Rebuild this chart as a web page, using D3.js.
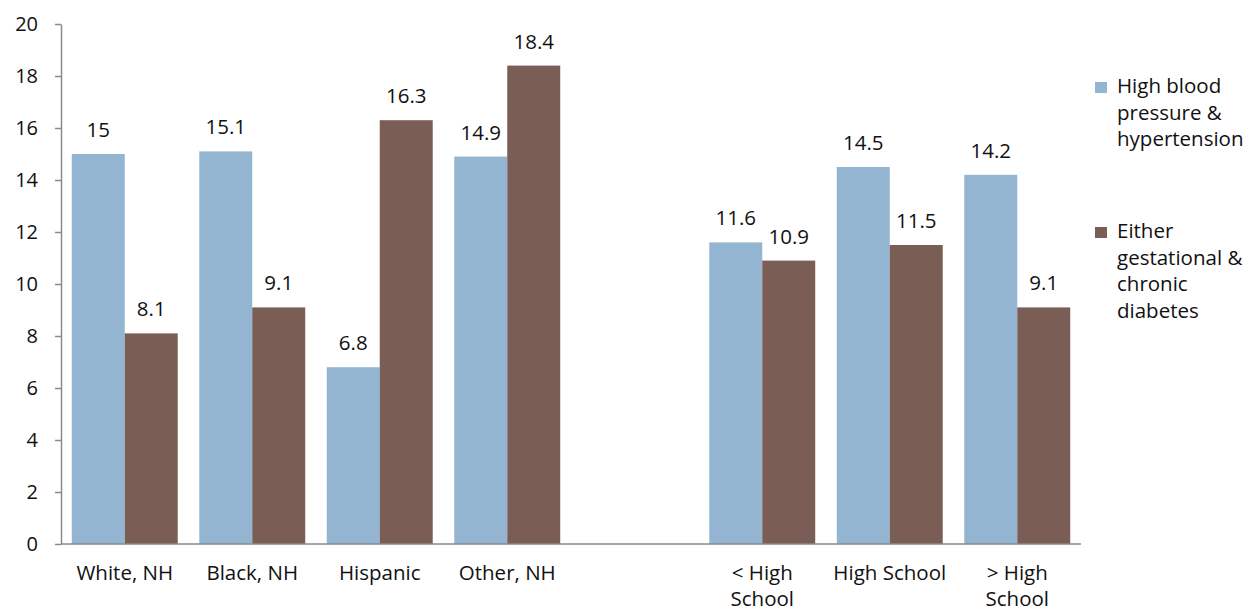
<!DOCTYPE html>
<html>
<head>
<meta charset="utf-8">
<script src="https://cdn.jsdelivr.net/npm/d3@7"></script>
<style>
  body { margin: 0; background: #fff; }
  text { font-family: "Open Sans", "Noto Sans", sans-serif; fill: #111; }
</style>
</head>
<body>
<svg id="chart" width="1253" height="613"></svg>
<script>
const categories = ["White, NH", "Black, NH", "Hispanic", "Other, NH", "", "< High|School", "High School", "> High|School"];
const hbp = [15, 15.1, 6.8, 14.9, null, 11.6, 14.5, 14.2];
const diabetes = [8.1, 9.1, 16.3, 18.4, null, 10.9, 11.5, 9.1];
const seriesNames = ["High blood|pressure &|hypertension", "Either|gestational &|chronic|diabetes"];
const colors = ["#93B5D1", "#7A5E56"];
const yTicks = [0, 2, 4, 6, 8, 10, 12, 14, 16, 18, 20];

const svg = d3.select('#chart');
const plotLeft = 61, plotRight = 1081, plotTop = 24, plotBottom = 544;

const x = d3.scaleBand()
  .domain(d3.range(categories.length))
  .range([plotLeft, plotRight])
  .paddingInner(0.169)
  .paddingOuter(0.0845);

const y = d3.scaleLinear().domain([0, 20]).range([plotBottom, plotTop]);

const barW = x.bandwidth() / 2;

// y axis
const yAxis = svg.append('g')
  .attr('transform', `translate(${plotLeft},0)`)
  .call(d3.axisLeft(y).tickValues(yTicks).tickSize(6).tickPadding(17).tickSizeOuter(0));
yAxis.select('.domain').attr('stroke', '#8a8a8a').attr('stroke-width', 1.5);
yAxis.selectAll('.tick line').attr('stroke', '#8a8a8a').attr('stroke-width', 1.5);
yAxis.selectAll('.tick text').style('font-size', '20px').attr('fill', '#111')
  .style('font-family', '"Open Sans", sans-serif');

// bars
const series = [hbp, diabetes];
series.forEach((vals, s) => {
  const pts = vals.map((v, i) => ({v, i})).filter(d => d.v !== null);
  svg.append('g').selectAll('rect')
    .data(pts)
    .enter()
    .append('rect')
    .attr('x', d => x(d.i) + s * barW)
    .attr('y', d => y(d.v))
    .attr('width', barW)
    .attr('height', d => plotBottom - y(d.v))
    .attr('fill', colors[s]);

  svg.append('g').selectAll('text')
    .data(pts)
    .enter()
    .append('text')
    .attr('x', d => x(d.i) + s * barW + barW / 2)
    .attr('y', d => y(d.v) - 17)
    .attr('text-anchor', 'middle')
    .style('font-size', '20.5px')
    .text(d => d.v);
});

// x axis baseline
svg.append('line')
  .attr('x1', plotLeft).attr('x2', plotRight)
  .attr('y1', plotBottom).attr('y2', plotBottom)
  .attr('stroke', '#8a8a8a').attr('stroke-width', 1.5);

// category labels (one text per line)
categories.forEach((c, i) => {
  if (!c) return;
  c.split('|').forEach((line, k) => {
    svg.append('text')
      .attr('x', x(i) + x.bandwidth() / 2)
      .attr('y', 580 + k * 26)
      .attr('text-anchor', 'middle')
      .style('font-size', '20.5px')
      .text(line);
  });
});

// legend
const legendY = [93, 238];
seriesNames.forEach((name, s) => {
  svg.append('rect')
    .attr('x', 1095).attr('y', legendY[s] - 11)
    .attr('width', 12).attr('height', 11)
    .attr('fill', colors[s]);
  const t = svg.append('text')
    .attr('x', 1117).attr('y', legendY[s])
    .style('font-size', '20.5px');
  name.split('|').forEach((line, k) => {
    t.append('tspan')
      .attr('x', 1117)
      .attr('dy', k === 0 ? 0 : 26.7)
      .text(line);
  });
});
</script>
</body>
</html>
